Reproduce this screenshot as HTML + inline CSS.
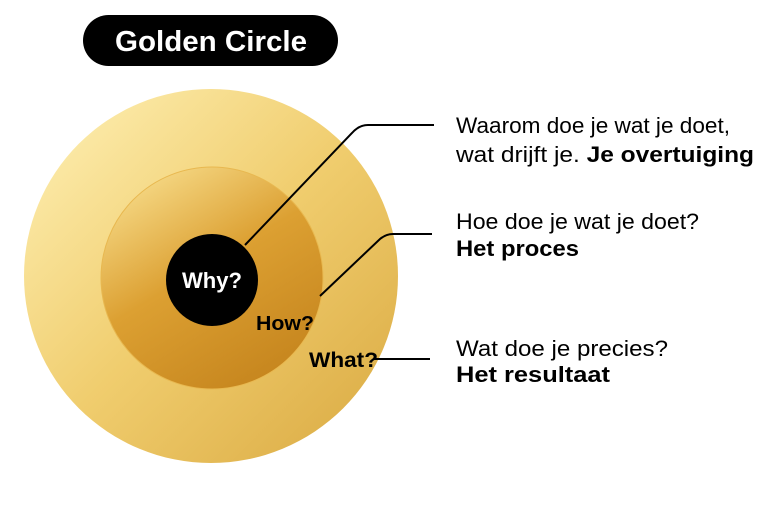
<!DOCTYPE html>
<html><head><meta charset="utf-8"><style>
html,body{margin:0;padding:0;background:#fff;}
svg{display:block;}
</style></head><body>
<svg width="768" height="512" viewBox="0 0 768 512" xmlns="http://www.w3.org/2000/svg">
<defs>
<linearGradient id="g1" x1="0" y1="0" x2="1" y2="1">
<stop offset="0" stop-color="#fff2b8"/><stop offset="0.5" stop-color="#f0cd6e"/><stop offset="1" stop-color="#d9a840"/>
</linearGradient>
<linearGradient id="g2" x1="0.2" y1="0" x2="0.8" y2="1">
<stop offset="0" stop-color="#f7dc8a"/><stop offset="0.45" stop-color="#dca032"/><stop offset="1" stop-color="#c4831c"/>
</linearGradient>
</defs>
<rect x="83" y="15" width="255" height="51" rx="25.5" fill="#000"/>
<text x="115" y="51" textLength="192" lengthAdjust="spacingAndGlyphs" font-family="Liberation Sans, sans-serif" font-weight="bold" font-size="29" fill="#fff">Golden Circle</text>
<circle cx="211" cy="276" r="187" fill="url(#g1)"/>
<circle cx="212" cy="278" r="111" fill="url(#g2)" stroke="#e8b850" stroke-width="1"/>
<circle cx="212" cy="280" r="46" fill="#000"/>
<text x="182" y="288" textLength="60" lengthAdjust="spacingAndGlyphs" font-family="Liberation Sans, sans-serif" font-weight="bold" font-size="22" fill="#fff">Why?</text>
<text x="256" y="330" textLength="58" lengthAdjust="spacingAndGlyphs" font-family="Liberation Sans, sans-serif" font-weight="bold" font-size="20" fill="#000">How?</text>
<text x="309" y="367" textLength="69" lengthAdjust="spacingAndGlyphs" font-family="Liberation Sans, sans-serif" font-weight="bold" font-size="21" fill="#000">What?</text>
<g fill="none" stroke="#000" stroke-width="2">
<path d="M245 245 L352 133 Q359 125 368 125 L434 125"/>
<path d="M320 296 L380 239 Q386 234 393 234 L432 234"/>
<path d="M374 359 L430 359"/>
</g>
<g font-family="Liberation Sans, sans-serif" font-size="22" fill="#000" lengthAdjust="spacingAndGlyphs">
<text x="456" y="133" textLength="274" lengthAdjust="spacingAndGlyphs">Waarom doe je wat je doet,</text>
<text x="456" y="162" textLength="298" lengthAdjust="spacingAndGlyphs">wat drijft je. <tspan font-weight="bold">Je overtuiging</tspan></text>
<text x="456" y="229" textLength="243" lengthAdjust="spacingAndGlyphs">Hoe doe je wat je doet?</text>
<text x="456" y="256" font-weight="bold" textLength="123" lengthAdjust="spacingAndGlyphs">Het proces</text>
<text x="456" y="356" textLength="212" lengthAdjust="spacingAndGlyphs">Wat doe je precies?</text>
<text x="456" y="382" font-weight="bold" textLength="154" lengthAdjust="spacingAndGlyphs">Het resultaat</text>
</g>
</svg>
</body></html>
